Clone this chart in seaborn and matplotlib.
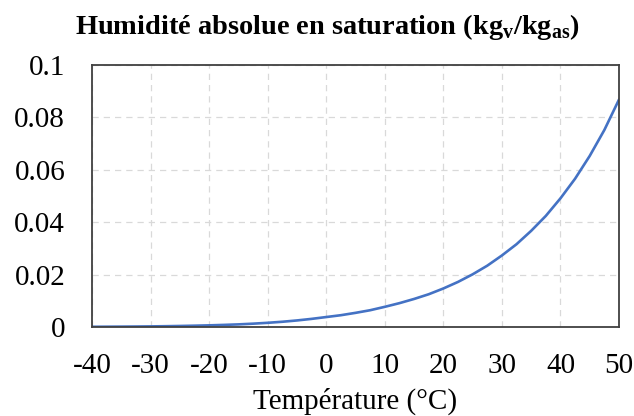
import matplotlib
matplotlib.use('Agg')
import matplotlib.pyplot as plt
import seaborn as sns
import pandas as pd

# temperature (°C) and saturation absolute humidity (kg_v/kg_as)
temperature = [-40, -37.5, -35, -32.5, -30, -27.5, -25, -22.5, -20, -17.5, -15, -12.5, -10, -7.5, -5, -2.5,
               0, 2.5, 5, 7.5, 10, 12.5, 15, 17.5, 20, 22.5, 25, 27.5, 30, 32.5, 35, 37.5, 40, 42.5, 45, 47.5, 50]
humidity = [0.00008, 0.00011, 0.00014, 0.00018, 0.00023, 0.0003, 0.00039, 0.0005, 0.00063, 0.0008,
            0.0010, 0.00127, 0.0016, 0.002, 0.0025, 0.0031, 0.0038, 0.0045, 0.0054, 0.0064,
            0.0077, 0.0091, 0.0107, 0.0125, 0.0147, 0.0172, 0.0201, 0.0234, 0.0273, 0.0316,
            0.0367, 0.0424, 0.0491, 0.0566, 0.0653, 0.0752, 0.0868]

x_ticks = [-40, -30, -20, -10, 0, 10, 20, 30, 40, 50]
y_ticks = [0, 0.02, 0.04, 0.06, 0.08, 0.1]
y_tick_labels = ['0', '0.02', '0.04', '0.06', '0.08', '0.1']

df = pd.DataFrame({'T': temperature, 'x': humidity})

sns.set_style('white')
plt.rcParams['font.family'] = ['Liberation Serif', 'DejaVu Serif']
plt.rcParams['mathtext.fontset'] = 'custom'
plt.rcParams['mathtext.rm'] = 'Liberation Serif:bold'
plt.rcParams['text.color'] = 'black'
plt.rcParams['axes.labelcolor'] = 'black'

fig = plt.figure(figsize=(6.34, 4.16), dpi=100)
ax = fig.add_axes([92/634, 89/416, 527/634, 262/416])

sns.lineplot(data=df, x='T', y='x', ax=ax, color='#4472C4', linewidth=1.9)

ax.set_xlim(-40, 50)
ax.set_ylim(0, 0.1)
ax.set_xticks(x_ticks)
ax.set_xticklabels([str(t) for t in x_ticks])
ax.set_yticks(y_ticks)
ax.set_yticklabels(y_tick_labels)
ax.tick_params(axis='both', length=0, labelsize=21, colors='black')
ax.tick_params(axis='x', pad=18.6)
ax.tick_params(axis='y', pad=19.3)

ax.grid(True, color='#d9d9d9', linestyle=(0, (5, 4)), linewidth=0.9)
for s in ax.spines.values():
    s.set_color('#404040')
    s.set_linewidth(1.3)

ax.set_xlabel('Température (°C)', fontsize=21, labelpad=6.5, color='black')
ax.set_ylabel('')

fig.suptitle(r'Humidité absolue en saturation (kg$_\mathrm{v}$/kg$_\mathrm{as}$)',
             fontsize=20.4, fontweight='bold', x=0.517, y=0.935, va='center', color='black')

fig.savefig('out.png', dpi=100)
